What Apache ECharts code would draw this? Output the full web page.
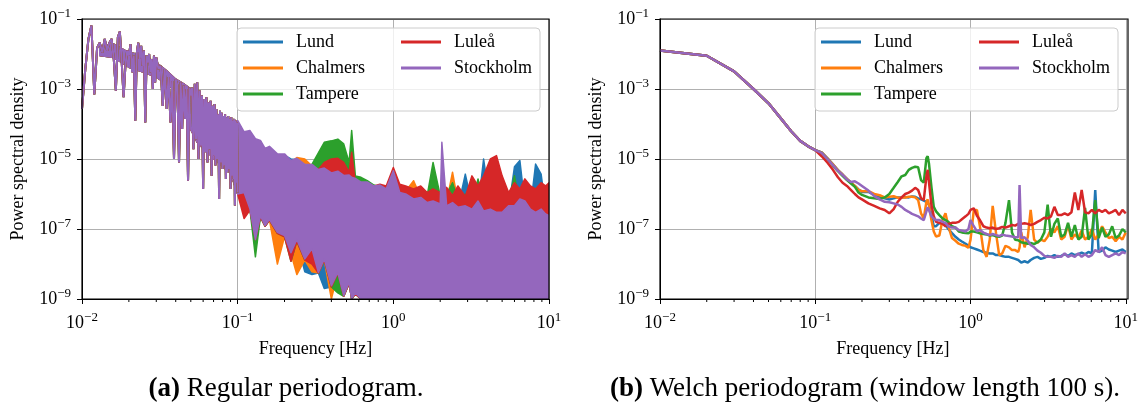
<!DOCTYPE html>
<html>
<head>
<meta charset="utf-8">
<script src="https://cdn.jsdelivr.net/npm/echarts@6/dist/echarts.min.js"></script>
<style>
  html, body { margin: 0; padding: 0; background: #fff; }
  #chart { width: 1141px; height: 410px; }
</style>
</head>
<body>
<div id="chart"></div>
<script>
var stations = ['Lund', 'Chalmers', 'Tampere', 'Luleå', 'Stockholm'];
var colors = ['#1f77b4', '#ff7f0e', '#2ca02c', '#d62728', '#9467bd'];
var minorTicks = [0.02, 0.03, 0.04, 0.05, 0.06, 0.07, 0.08, 0.09,
  0.2, 0.3, 0.4, 0.5, 0.6, 0.7, 0.8, 0.9, 2, 3, 4, 5, 6, 7, 8, 9];

// (a) regular periodogram, low frequencies: single bins, all stations coincide
var lowF = [0.0100, 0.0105, 0.0110, 0.0115, 0.0120, 0.0125, 0.0130, 0.0135, 0.0140, 0.0145,
  0.0150, 0.0155, 0.0160, 0.0165, 0.0170, 0.0175, 0.0180, 0.0185, 0.0190, 0.0195,
  0.0200, 0.0205, 0.0210, 0.0215, 0.0220, 0.0225, 0.0230, 0.0235, 0.0240, 0.0245,
  0.0250, 0.0255, 0.0260, 0.0265, 0.0270, 0.0275, 0.0280, 0.0285, 0.0290, 0.0295,
  0.0300, 0.031, 0.032, 0.033, 0.034, 0.035, 0.036, 0.037, 0.038, 0.039,
  0.040, 0.041, 0.042, 0.043, 0.044, 0.045, 0.046, 0.047, 0.048, 0.049,
  0.050, 0.051, 0.052, 0.053, 0.054, 0.055, 0.056, 0.057, 0.058, 0.059,
  0.060, 0.061, 0.062, 0.063, 0.064, 0.065, 0.066, 0.067, 0.068, 0.069,
  0.070, 0.071, 0.072, 0.073, 0.074, 0.075, 0.076, 0.077, 0.078, 0.079,
  0.080, 0.081, 0.082, 0.083, 0.084, 0.085, 0.086, 0.087, 0.088, 0.089,
  0.090, 0.091, 0.092, 0.093, 0.094, 0.095, 0.096, 0.097, 0.098, 0.099, 0.100];
var lowPsd = [2.7e-4, 3.7e-3, 2.7e-2, 6.5e-2, 7e-4, 1.5e-2, 2.1e-2, 1.1e-2, 2.7e-2, 1.25e-2,
  2.1e-2, 2.7e-2, 7.2e-3, 9e-4, 3e-2, 4.4e-2, 5.7e-3, 5.8e-4, 4.6e-3, 1.25e-2,
  9e-3, 1.9e-2, 3e-3, 9e-3, 1.25e-4, 1.1e-2, 2.1e-2, 7.2e-3, 1.7e-2, 4.6e-3,
  1.25e-2, 1.1e-4, 9e-3, 5.7e-3, 1e-2, 3e-3, 7.2e-3, 1e-3, 9e-3, 1.55e-3,
  8e-3, 3.7e-3, 4.6e-3, 3.3e-4, 3.7e-3, 2.7e-4, 2.2e-3, 1.1e-4, 1.7e-3, 1e-5,
  1.9e-3, 1.25e-3, 8e-6, 1.55e-3, 7.2e-5, 1.25e-3, 1.4e-4, 1e-3, 2.4e-6, 1.1e-3,
  6.5e-4, 1.1e-3, 1.9e-5, 1.4e-3, 3.7e-5, 1.55e-3, 1e-5, 9e-4, 2.4e-5, 6.5e-4,
  1.4e-6, 5.2e-4, 1.55e-5, 5.8e-4, 8e-6, 4.2e-4, 1.9e-5, 4.6e-4, 3.3e-6, 3.3e-4,
  1.25e-5, 3.7e-4, 6.5e-6, 2.7e-4, 1e-5, 1.9e-4, 7.2e-7, 2.4e-4, 8e-6, 2.1e-4,
  5.2e-6, 1.7e-4, 6.5e-6, 1.9e-4, 2.7e-6, 1.55e-4, 4.2e-6, 1.7e-4, 5.2e-6, 1.4e-4,
  1.4e-6, 1.55e-4, 3.3e-6, 1.25e-4, 2.7e-6, 1.4e-4, 4.7e-7, 1.25e-4, 2.1e-6, 1.1e-4, 1.1e-6];
// dense core of the low-frequency bins (filled part between the spikes)
var lowCoreF = [0.013, 0.016, 0.02, 0.025, 0.03, 0.035, 0.04, 0.045, 0.05];
var lowCoreHi = [1.7e-2, 1.9e-2, 1.1e-2, 9e-3, 5.7e-3, 3.3e-3, 1.9e-3, 1.4e-3, 1e-3];
var lowCoreLo = [9e-3, 8e-3, 4.2e-3, 3e-3, 2.2e-3, 1.4e-3, 9e-4, 5.8e-4, 4.2e-4];

// (a) higher frequencies: bins too dense to separate, upper / lower envelope per station
var bandF = [0.05, 0.055, 0.06, 0.065, 0.07, 0.075, 0.08, 0.09, 0.1, 0.11,
  0.12, 0.13, 0.14, 0.15, 0.16, 0.18, 0.2, 0.22, 0.24, 0.27,
  0.3, 0.33, 0.36, 0.4, 0.44, 0.48, 0.52, 0.54, 0.57, 0.62,
  0.68, 0.75, 0.82, 0.9, 1.0, 1.1, 1.2, 1.35, 1.5, 1.65,
  1.8, 2.0, 2.05, 2.2, 2.4, 2.6, 2.9, 3.2, 3.5, 3.8,
  4.2, 4.6, 5.0, 5.5, 6.0, 6.5, 7.0, 7.6, 8.2, 8.9,
  9.5, 10];

var lundHi = [5e-4, 5e-4, 3e-4, 2.5e-4, 2e-4, 1.2e-4, 1e-4, 8e-5,
  1.13e-4, 5.4e-5, 5.8e-5, 3.4e-5, 3.1e-5, 1.8e-5, 2.1e-5, 1.26e-5, 1.26e-5, 1e-5,
  9.5e-6, 6.3e-6, 6.3e-6, 4.5e-6, 5e-6, 3.6e-6, 4e-6, 3.1e-6, 3.2e-6, 2.7e-6,
  2.5e-6, 2e-6, 2e-6, 1.5e-6, 1.6e-6, 1.26e-6,
  1.3e-6, 1e-6, 9e-7, 7e-7, 7.5e-7, 6e-7, 6e-7, 5e-7, 5e-7, 4.5e-7,
  5e-7, 4e-7, 3.7e-6, 5e-7, 4e-7, 1e-5, 5e-7, 4e-7, 5e-7, 4e-7,
  6e-6, 9e-6, 5e-7, 4e-7, 7.2e-6, 3.7e-6, 4e-7, 5e-7];
var lundLo = [7e-5, 3e-5, 2e-5, 1.5e-5, 1e-5, 8e-6, 6e-6, 4e-6, 1e-6,
  1e-6, 3.5e-7, 4.5e-8, 2.2e-7, 1.2e-7, 1.8e-7, 7.5e-8, 6e-8, 2e-8, 4.5e-8, 6e-9,
  5e-9, 5.5e-9, 2e-9, 2.2e-9, 5.5e-9, 1.2e-9, 2.8e-9, 1e-9, 1.4e-9, 1e-9,
  1e-9, 1e-9, 1e-9, 1e-9, 1e-9, 1e-9, 1e-9, 1e-9, 1e-9, 1e-9,
  1e-9, 1e-9, 1e-9, 1e-9, 1e-9, 1e-9, 1e-9, 1e-9, 1e-9, 1e-9,
  1e-9, 1e-9, 1e-9, 1e-9, 1e-9, 1e-9, 1e-9, 1e-9, 1e-9, 1e-9,
  1e-9, 1e-9];

var chalmersHi = [5e-4, 5e-4, 3e-4, 2.5e-4, 2e-4, 1.2e-4, 1e-4, 8e-5,
  1.13e-4, 5.4e-5, 5.8e-5, 3.4e-5, 3.1e-5, 1.8e-5, 2.1e-5, 1.26e-5, 1.26e-5, 8.1e-6,
  1.1e-5, 1e-5, 6.3e-6, 4.5e-6, 5e-6, 3.6e-6, 4e-6, 3.1e-6, 3.2e-6, 2.7e-6,
  2.5e-6, 2e-6, 2e-6, 1.5e-6, 1.6e-6, 1.26e-6,
  1.2e-6, 1e-6, 1.2e-6, 2.4e-6, 8e-7, 7e-7, 1.2e-6, 6e-7, 5e-7, 6e-7,
  4.2e-6, 6e-7, 5e-7, 7e-7, 5e-7, 6e-7, 5e-7, 1.5e-6, 6e-7, 5e-7,
  5e-7, 6e-7, 5e-7, 6e-7, 5e-7, 5e-7, 4e-7, 5e-7];
var chalmersLo = [7e-5, 3e-5, 2e-5, 1.5e-5, 1e-5, 8e-6, 6e-6, 4e-6, 1e-6,
  1e-6, 3.5e-7, 4.5e-8, 2.2e-7, 1.2e-7, 1.8e-7, 1e-8, 6e-8, 2e-8, 5e-9, 1.3e-8,
  6e-9, 5.5e-9, 1.3e-8, 1e-9, 5.5e-9, 1.2e-9, 2.8e-9, 1e-9, 1.4e-9, 1e-9,
  1e-9, 1e-9, 1e-9, 1e-9, 1e-9, 1e-9, 1e-9, 1e-9, 1e-9, 1e-9,
  1e-9, 1e-9, 1e-9, 1e-9, 1e-9, 1e-9, 1e-9, 1e-9, 1e-9, 1e-9,
  1e-9, 1e-9, 1e-9, 1e-9, 1e-9, 1e-9, 1e-9, 1e-9, 1e-9, 1e-9,
  1e-9, 1e-9];

var tampereHi = [5e-4, 5e-4, 3e-4, 2.5e-4, 2e-4, 1.2e-4, 1e-4, 8e-5,
  1.13e-4, 5.4e-5, 5.8e-5, 3.4e-5, 3.1e-5, 1.8e-5, 2.1e-5, 1.26e-5, 1.26e-5, 8.1e-6,
  9.5e-6, 6.3e-6,
  7e-6, 1.5e-5, 3e-5, 3.3e-5, 3.7e-5, 2.7e-5, 8e-6, 6.5e-5, 3.3e-6, 3e-6,
  2.4e-6, 1.8e-6, 1.6e-6, 1.3e-6,
  1.2e-6, 1.4e-6, 1.55e-6, 1.2e-6, 1.4e-6, 9e-7, 8e-6, 9e-7, 6e-7, 1e-6,
  2.1e-6, 7e-7, 1e-6, 5e-7, 2.7e-6, 5e-7, 7e-7, 5e-7, 7e-7, 6e-7,
  3.3e-6, 5e-7, 1.1e-6, 6e-7, 7e-7, 5e-7, 6e-7, 5e-7];
var tampereLo = [7e-5, 3e-5, 2e-5, 1.5e-5, 1e-5, 8e-6, 6e-6, 4e-6, 1e-6,
  1e-6, 3.5e-7, 1.6e-8, 2.2e-7, 1.2e-7, 1.8e-7, 7.5e-8, 6e-8, 1.2e-8, 4.5e-8, 1.3e-8,
  2.5e-8, 5.5e-9, 1.3e-8, 2.2e-9, 1.5e-9, 1.2e-9, 2.8e-9, 1e-9, 1.4e-9, 1e-9,
  1e-9, 1e-9, 1e-9, 1e-9, 1e-9, 1e-9, 1e-9, 1e-9, 1e-9, 1e-9,
  1e-9, 1e-9, 1e-9, 1e-9, 1e-9, 1e-9, 1e-9, 1e-9, 1e-9, 1e-9,
  1e-9, 1e-9, 1e-9, 1e-9, 1e-9, 1e-9, 1e-9, 1e-9, 1e-9, 1e-9,
  1e-9, 1e-9];

var luleaHi = [5e-4, 5e-4, 3e-4, 2.5e-4, 2e-4, 1.2e-4, 1e-4, 8e-5,
  1.13e-4, 5.4e-5, 5.8e-5, 3.4e-5, 3.1e-5, 1.8e-5, 2.1e-5, 1.26e-5, 1.26e-5, 8.1e-6,
  9.5e-6, 6.3e-6,
  6.3e-6, 5e-6, 8e-6, 1e-5, 1.05e-5, 8e-6, 4.2e-6, 1.55e-5, 2.1e-6, 1.9e-6,
  1.6e-6, 1.7e-6, 1.9e-6, 1.7e-6,
  5.7e-6, 1.9e-6, 1.7e-6, 1.4e-6, 1.7e-6, 1.1e-6, 1.4e-6, 1.1e-6, 7e-7, 1.55e-6,
  9e-7, 1.7e-6, 8.5e-7, 3.3e-6, 1.7e-6, 3.3e-6, 1e-5, 1.25e-5, 3.3e-6, 1.1e-6,
  2.1e-6, 1.4e-6, 2.7e-6, 1.7e-6, 1.4e-6, 2.1e-6, 1.7e-6, 2.1e-6];
var luleaLo = [7e-5, 3e-5, 2e-5, 1.5e-5, 1e-5, 8e-6, 6e-6, 4e-6, 1e-6,
  2e-7, 3.5e-7, 5e-8, 2.2e-7, 1.2e-7, 1.8e-7, 7.5e-8, 6e-8, 1.2e-8, 4.5e-8, 1.3e-8,
  1e-8, 5.5e-9, 1.3e-8, 2.2e-9, 5.5e-9, 1.2e-9, 2.8e-9, 1e-9, 1.4e-9, 1e-9,
  1e-9, 1e-9, 1e-9, 1e-9, 1e-9, 1e-9, 1e-9, 1e-9, 1e-9, 1e-9,
  1e-9, 1e-9, 1e-9, 1e-9, 1e-9, 1e-9, 1e-9, 1e-9, 1e-9, 1e-9,
  1e-9, 1e-9, 1e-9, 1e-9, 1e-9, 1e-9, 1e-9, 1e-9, 1e-9, 1e-9,
  1e-9, 1e-9];

var stockholmHi = [5e-4, 5e-4, 3e-4, 2.5e-4, 2e-4, 1.2e-4, 1e-4, 8e-5,
  1.26e-4, 6e-5, 6.5e-5, 3.8e-5, 3.4e-5, 2e-5, 2.3e-5, 1.4e-5, 1.4e-5, 9e-6,
  1.05e-5, 7e-6, 7e-6, 5e-6, 5.5e-6, 4e-6, 4.5e-6, 3.4e-6, 3.5e-6, 3e-6,
  2.8e-6, 2.2e-6, 2.2e-6, 1.7e-6, 1.8e-6, 1.4e-6,
  4.6e-6, 1.1e-6, 1e-6, 7.2e-7, 8e-7, 5.7e-7, 6.3e-7, 5.2e-7, 3e-5, 4.6e-7,
  5.7e-7, 4.2e-7, 4.6e-7, 3.7e-7, 6.3e-7, 3.3e-7, 3.7e-7, 3e-7, 3e-7, 4.6e-7,
  4.6e-7, 7.2e-7, 6.3e-7, 3.7e-7, 3e-7, 3.7e-7, 2.7e-7, 2.4e-7];
var stockholmLo = [7e-5, 3e-5, 2e-5, 1.5e-5, 1e-5, 8e-6, 6e-6, 4e-6, 1e-6,
  1.1e-6, 3.7e-7, 5e-8, 2.4e-7, 1.25e-7, 1.9e-7, 8e-8, 6.5e-8, 2.1e-8, 5e-8, 1.4e-8,
  2.7e-8, 5.7e-9, 1.4e-8, 2.4e-9, 5.7e-9, 1.25e-9, 3e-9, 1e-9, 1.5e-9, 1e-9,
  1e-9, 1e-9, 1e-9, 1e-9, 1e-9, 1e-9, 1e-9, 1e-9, 1e-9, 1e-9,
  1e-9, 1e-9, 1e-9, 1e-9, 1e-9, 1e-9, 1e-9, 1e-9, 1e-9, 1e-9,
  1e-9, 1e-9, 1e-9, 1e-9, 1e-9, 1e-9, 1e-9, 1e-9, 1e-9, 1e-9,
  1e-9, 1e-9];

// (b) Welch periodogram
var welchF = [0.01, 0.02, 0.03, 0.04, 0.05, 0.06, 0.07, 0.08, 0.09, 0.10,
  0.11, 0.12, 0.13, 0.14, 0.15, 0.16, 0.17, 0.18, 0.19, 0.20,
  0.22, 0.24, 0.26, 0.28, 0.30, 0.32, 0.34, 0.36, 0.38, 0.40,
  0.42, 0.44, 0.46, 0.48, 0.50, 0.52, 0.53, 0.54, 0.56, 0.58,
  0.60, 0.63, 0.66, 0.69, 0.72, 0.76, 0.80, 0.84, 0.88, 0.93,
  0.97, 1.00, 1.05, 1.10, 1.15, 1.21, 1.27, 1.33, 1.39, 1.46,
  1.53, 1.60, 1.68, 1.77, 1.85, 1.94, 2.03, 2.07, 2.12, 2.23,
  2.34, 2.44, 2.57, 2.70, 2.84, 2.99, 3.14, 3.30, 3.47, 3.65,
  3.84, 4.04, 4.25, 4.47, 4.70, 4.95, 5.20, 5.47, 5.75, 6.05,
  6.36, 6.69, 7.04, 7.40, 7.78, 8.18, 8.61, 9.05, 9.52, 10.0];

var lundW = [1.25e-2, 8.9e-3, 3.2e-3, 1e-3, 3.9e-4, 1.45e-4, 6.2e-5, 3.3e-5, 2.3e-5, 1.8e-5,
  1.55e-5, 1.05e-5, 7e-6, 4.8e-6, 3.6e-6, 2.7e-6, 2.1e-6, 1.7e-6, 1.35e-6, 1.15e-6,
  1.15e-6, 9.5e-7, 8.5e-7, 7.5e-7, 7e-7, 7.5e-7, 8e-7, 8e-7, 8.2e-7, 8e-7,
  8.5e-7, 8.3e-7, 7.5e-7, 7e-7, 6.5e-7, 6e-7, 6e-7, 5e-7, 2.5e-7, 1.2e-7,
  1.2e-7, 1.5e-7, 1.4e-7, 1.3e-7, 1e-7, 7.6e-8, 6e-8, 5e-8, 4.4e-8, 3.8e-8,
  3.3e-8, 3e-8, 2.8e-8, 2.6e-8, 2.4e-8, 2.2e-8, 2.1e-8, 2e-8, 2e-8, 1.8e-8,
  1.8e-8, 1.7e-8, 1.6e-8, 1.6e-8, 1.5e-8, 1.4e-8, 1.3e-8, 1.2e-8, 1.1e-8, 1.2e-8,
  1.1e-8, 1.3e-8, 1.5e-8, 1.6e-8, 1.4e-8, 1.5e-8, 1.7e-8, 1.6e-8, 1.8e-8, 1.6e-8,
  1.7e-8, 1.9e-8, 1.7e-8, 2e-8, 1.8e-8, 1.9e-8, 2.1e-8, 1.9e-8, 2.2e-8, 2e-8,
  1.3e-6, 2.2e-8, 2.4e-8, 3e-8, 2.6e-8, 2.4e-8, 2.2e-8, 2.4e-8, 2.6e-8, 2.2e-8];
var chalmersW = [1.25e-2, 8.9e-3, 3.2e-3, 1e-3, 3.9e-4, 1.45e-4, 6.2e-5, 3.3e-5, 2.3e-5, 1.8e-5,
  1.55e-5, 1.05e-5, 7e-6, 4.8e-6, 3.6e-6, 2.7e-6, 2.1e-6, 1.7e-6, 1.3e-6, 1.2e-6,
  1.2e-6, 1e-6, 9.2e-7, 8e-7, 8.3e-7, 8.6e-7, 7.8e-7, 7.9e-7, 8e-7, 8.3e-7,
  8.3e-7, 8e-7, 6.7e-7, 2.8e-7, 2e-7, 6e-7, 7e-7, 4.9e-7, 1.8e-7, 8.5e-8,
  6.1e-8, 6.5e-8, 1.8e-7, 2.8e-7, 1.2e-7, 5.5e-8, 4.6e-8, 3.8e-8, 3.5e-8, 3.3e-8,
  2.9e-8, 4.9e-8, 3.4e-7, 3.5e-7, 1.2e-7, 2.5e-8, 1.6e-8, 4.9e-8, 4.6e-7, 7.6e-8,
  1.8e-8, 2e-8, 3.3e-8, 3e-8, 2.5e-8, 2.5e-8, 2.2e-8, 3e-8, 8e-8, 3e-8,
  6e-8, 3.5e-7, 5e-8, 4e-8, 5e-8, 4.5e-8, 6e-8, 1e-7, 8e-8, 1.2e-7,
  5e-8, 6e-8, 1.3e-7, 5e-8, 7e-8, 5.5e-8, 9e-8, 5e-8, 6e-8, 1e-7,
  5e-8, 7e-8, 1.2e-7, 8e-8, 5.5e-8, 6e-8, 4.5e-8, 6e-8, 5e-8, 8e-8];
var tampereW = [1.25e-2, 8.9e-3, 3.2e-3, 1e-3, 3.9e-4, 1.45e-4, 6.2e-5, 3.3e-5, 2.3e-5, 1.8e-5,
  1.5e-5, 1e-5, 6.5e-6, 4.5e-6, 3.3e-6, 2.5e-6, 2e-6, 1.6e-6, 1.1e-6, 9.4e-7,
  8e-7, 7.6e-7, 7.2e-7, 8e-7, 1e-6, 1.5e-6, 2.2e-6, 3.2e-6, 3.5e-6, 4.9e-6,
  5.6e-6, 6e-6, 5.8e-6, 2.5e-6, 2.1e-6, 1.05e-5, 1.2e-5, 7.5e-6, 1.6e-6, 4.3e-7,
  3.2e-7, 2.5e-7, 2e-7, 1.8e-7, 1.6e-7, 1.2e-7, 1.1e-7, 8.5e-8, 8e-8, 7.7e-8,
  7.5e-8, 8.5e-8, 8.5e-8, 8e-8, 7.5e-8, 7.2e-8, 7e-8, 6.5e-8, 6.7e-8, 6.2e-8,
  6e-8, 6.5e-8, 1.5e-7, 6.7e-7, 8e-8, 4.9e-8, 4.8e-8, 5e-8, 4.2e-8, 4e-8,
  3.8e-8, 4e-8, 3.7e-8, 4.2e-8, 5e-8, 8e-8, 5e-7, 6e-8, 1.4e-7, 2e-7,
  6e-8, 7e-8, 1.5e-7, 6e-8, 1.3e-7, 5e-8, 6e-8, 4e-7, 5e-8, 7e-8,
  6.7e-7, 5.5e-8, 1.1e-7, 6e-8, 7e-8, 1.2e-7, 5.5e-8, 6.5e-8, 1e-7, 8e-8];
var luleaW = [1.25e-2, 8.9e-3, 3.2e-3, 1e-3, 3.9e-4, 1.45e-4, 6.2e-5, 3.3e-5, 2.3e-5, 1.8e-5,
  1.2e-5, 7.8e-6, 4.9e-6, 3e-6, 2.1e-6, 1.7e-6, 1.3e-6, 1e-6, 8e-7, 7e-7,
  5.4e-7, 4.6e-7, 3.9e-7, 3.5e-7, 2.8e-7, 3.7e-7, 6e-7, 8e-7, 1e-6, 1.1e-6,
  1.25e-6, 1.5e-6, 1.3e-6, 7.6e-7, 6.7e-7, 3.2e-6, 4.9e-6, 2.2e-6, 4.9e-7, 2.3e-7,
  1.6e-7, 1.5e-7, 1.4e-7, 1.2e-7, 1.4e-7, 1.5e-7, 1.5e-7, 1.6e-7, 1.9e-7, 2.3e-7,
  2.7e-7, 3.5e-7, 3.9e-7, 2.4e-7, 1.8e-7, 1.2e-7, 1.1e-7, 1.05e-7, 1.1e-7, 1e-7,
  1.05e-7, 1.15e-7, 1.1e-7, 1.2e-7, 1.3e-7, 1.25e-7, 1.4e-7, 1.3e-7, 1.4e-7, 1.45e-7,
  1.4e-7, 1.3e-7, 1.4e-7, 1.6e-7, 1.8e-7, 2.1e-7, 2e-7, 2.3e-7, 4.3e-7, 2.5e-7,
  2.5e-7, 2.8e-7, 2.5e-7, 3e-7, 1.1e-6, 3.5e-7, 1.3e-6, 3e-7, 2.8e-7, 3.5e-7,
  2.8e-7, 3.5e-7, 3.1e-7, 3.5e-7, 2.8e-7, 3.1e-7, 3.5e-7, 2.5e-7, 3.5e-7, 2.8e-7];
var stockholmW = [1.25e-2, 8.9e-3, 3.2e-3, 1e-3, 3.9e-4, 1.45e-4, 6.2e-5, 3.3e-5, 2.3e-5, 1.8e-5,
  1.5e-5, 1e-5, 6.7e-6, 4.6e-6, 3.5e-6, 2.6e-6, 2.2e-6, 2.3e-6, 2e-6, 1.7e-6,
  1.25e-6, 8.7e-7, 7e-7, 6e-7, 5.8e-7, 5.4e-7, 5e-7, 4.3e-7, 3.5e-7, 3.1e-7,
  2.7e-7, 2.5e-7, 2.3e-7, 2e-7, 1.8e-7, 3.2e-7, 4.2e-7, 3.5e-7, 2.3e-7, 2e-7,
  1.8e-7, 1.8e-7, 1.6e-7, 1.5e-7, 1.2e-7, 1.1e-7, 1.1e-7, 9.4e-8, 9e-8, 8.5e-8,
  1e-7, 1.8e-7, 1.2e-7, 8.5e-8, 9.4e-8, 7.9e-8, 7.2e-8, 6.7e-8, 7.2e-8, 6.7e-8,
  6.3e-8, 6.9e-8, 6.5e-8, 6.3e-8, 6.1e-8, 5.8e-8, 5.8e-8, 1.8e-6, 5.5e-8, 5.8e-8,
  4.6e-8, 3.5e-8, 3e-8, 2.4e-8, 2.1e-8, 1.7e-8, 1.6e-8, 1.6e-8, 1.5e-8, 1.7e-8,
  1.6e-8, 2e-8, 1.6e-8, 1.8e-8, 1.6e-8, 2e-8, 1.6e-8, 1.9e-8, 1.6e-8, 1.8e-8,
  2.5e-8, 2.2e-8, 3e-8, 1.8e-8, 1.6e-8, 1.8e-8, 2e-8, 1.8e-8, 2.2e-8, 2e-8];

var bandHi = [lundHi, chalmersHi, tampereHi, luleaHi, stockholmHi];
var bandLo = [lundLo, chalmersLo, tampereLo, luleaLo, stockholmLo];
var welch = [lundW, chalmersW, tampereW, luleaW, stockholmW];

var serif = 'Liberation Serif';
var grids = [
  { left: 82, top: 19, width: 467, height: 280 },
  { left: 660, top: 19, width: 468, height: 280 }
];

var myChart = echarts.init(document.getElementById('chart'));

function powLabel(v) {
  var e = Math.round(Math.log(v) / Math.LN10);
  return '{b|10}{s|' + (e < 0 ? '\u2212' + (-e) : e) + '}';
}
var powRich = {
  b: { fontFamily: serif, fontSize: 18, color: '#000', lineHeight: 24 },
  s: { fontFamily: serif, fontSize: 13, color: '#000', lineHeight: 12, verticalAlign: 'top' }
};

function xAxisFor(i) {
  return {
    type: 'log', logBase: 10, gridIndex: i, min: 0.01, max: 10, interval: 1,
    axisLine: { onZero: false, lineStyle: { color: '#000', width: 1 } },
    axisTick: { length: 5, lineStyle: { color: '#000', width: 1 } },
    axisLabel: { margin: 12, formatter: powLabel, rich: powRich },
    splitLine: { show: true, lineStyle: { color: '#b0b0b0', width: 1 } },
    name: 'Frequency [Hz]', nameLocation: 'middle', nameGap: 41,
    nameTextStyle: { fontFamily: serif, fontSize: 18, color: '#000' }
  };
}
function yAxisFor(i) {
  return {
    type: 'log', logBase: 10, gridIndex: i, min: 1e-9, max: 1e-1, interval: 2,
    axisLine: { onZero: false, lineStyle: { color: '#000', width: 1 } },
    axisTick: { length: 5, lineStyle: { color: '#000', width: 1 } },
    axisLabel: { margin: 11, formatter: powLabel, rich: powRich },
    splitLine: { show: true, lineStyle: { color: '#b0b0b0', width: 1 } },
    name: 'Power spectral density', nameLocation: 'middle', nameGap: 55,
    nameTextStyle: { fontFamily: serif, fontSize: 18, color: '#000' }
  };
}

// one filled polygon between upper and lower envelope
function bandRenderer(fs, hi, lo) {
  return function (params, api) {
    if (params.dataIndex !== 0) return null;
    var pts = [];
    for (var i = 0; i < fs.length; i++) pts.push(api.coord([fs[i], hi[i]]));
    for (var j = fs.length - 1; j >= 0; j--) pts.push(api.coord([fs[j], lo[j]]));
    return {
      type: 'polygon',
      shape: { points: pts },
      style: { fill: api.visual('color'), stroke: api.visual('color'), lineWidth: 1.5, lineJoin: 'round' }
    };
  };
}

function bandSeries(name, k, fs, hi, lo) {
  return {
    name: name, type: 'custom', xAxisIndex: 0, yAxisIndex: 0,
    data: fs.map(function (f, i) { return [f, hi[i], lo[i]]; }),
    encode: { x: 0, y: [1, 2] },
    renderItem: bandRenderer(fs, hi, lo),
    itemStyle: { color: colors[k] }, silent: true, clip: true
  };
}

function minorTickItem(params, api) {
  var p = api.coord([api.value(0), api.value(1)]);
  return {
    type: 'line',
    shape: { x1: p[0], y1: p[1], x2: p[0], y2: p[1] + 3 },
    style: { stroke: '#000', lineWidth: 1 }
  };
}

var series = [];
stations.forEach(function (name, k) {
  series.push({
    name: name, type: 'line', xAxisIndex: 0, yAxisIndex: 0,
    data: lowF.map(function (f, i) { return [f, lowPsd[i]]; }),
    showSymbol: false, silent: true,
    itemStyle: { color: colors[k] },
    lineStyle: { color: colors[k], width: 2 }
  });
  series.push(bandSeries(name, k, lowCoreF, lowCoreHi, lowCoreLo));
  series.push(bandSeries(name, k, bandF, bandHi[k], bandLo[k]));
});
stations.forEach(function (name, k) {
  series.push({
    name: name, type: 'line', xAxisIndex: 1, yAxisIndex: 1,
    data: welchF.map(function (f, i) { return [f, welch[k][i]]; }),
    showSymbol: false, silent: true,
    itemStyle: { color: colors[k] },
    lineStyle: { color: colors[k], width: 2.5 }
  });
});
[0, 1].forEach(function (g) {
  series.push({
    type: 'custom', xAxisIndex: g, yAxisIndex: g, silent: true, clip: false,
    data: minorTicks.map(function (f) { return [f, 1e-9]; }),
    renderItem: minorTickItem
  });
});

function legendCol(names, left) {
  return {
    data: names, orient: 'vertical', left: left, top: 29, padding: 0,
    icon: 'rect', itemWidth: 40, itemHeight: 3, itemGap: 0, selectedMode: false, z: 20,
    textStyle: { fontFamily: serif, fontSize: 18, color: '#000', lineHeight: 26, padding: [0, 0, 0, 8] }
  };
}
var legends = [];
var graphics = [];
grids.forEach(function (g) {
  legends.push(legendCol(stations.slice(0, 3), g.left + 161));
  legends.push(legendCol(stations.slice(3), g.left + 319));
  graphics.push({
    type: 'rect', z: 10, silent: true,
    shape: { x: g.left + 155, y: 28, width: 303, height: 83, r: 4 },
    style: { fill: 'rgba(255,255,255,0.8)', stroke: '#cccccc', lineWidth: 1 }
  });
  graphics.push({
    type: 'rect', z: 50, silent: true,
    shape: { x: g.left, y: g.top, width: g.width, height: g.height },
    style: { fill: 'none', stroke: '#000', lineWidth: 1.2 }
  });
});
graphics.push({
  type: 'text', x: 286, y: 389, silent: true,
  style: {
    text: '{b|(a)} Regular periodogram.', align: 'center', verticalAlign: 'middle',
    fontFamily: serif, fontSize: 27, fill: '#000',
    rich: { b: { fontFamily: serif, fontSize: 27, fontWeight: 'bold', fill: '#000' } }
  }
});
graphics.push({
  type: 'text', x: 865, y: 389, silent: true,
  style: {
    text: '{b|(b)} Welch periodogram (window length 100 s).', align: 'center', verticalAlign: 'middle',
    fontFamily: serif, fontSize: 27, fill: '#000',
    rich: { b: { fontFamily: serif, fontSize: 27, fontWeight: 'bold', fill: '#000' } }
  }
});

var option = {
  animation: false,
  backgroundColor: '#fff',
  grid: grids,
  xAxis: [xAxisFor(0), xAxisFor(1)],
  yAxis: [yAxisFor(0), yAxisFor(1)],
  legend: legends,
  graphic: graphics,
  series: series
};
myChart.setOption(option);
</script>
</body>
</html>
